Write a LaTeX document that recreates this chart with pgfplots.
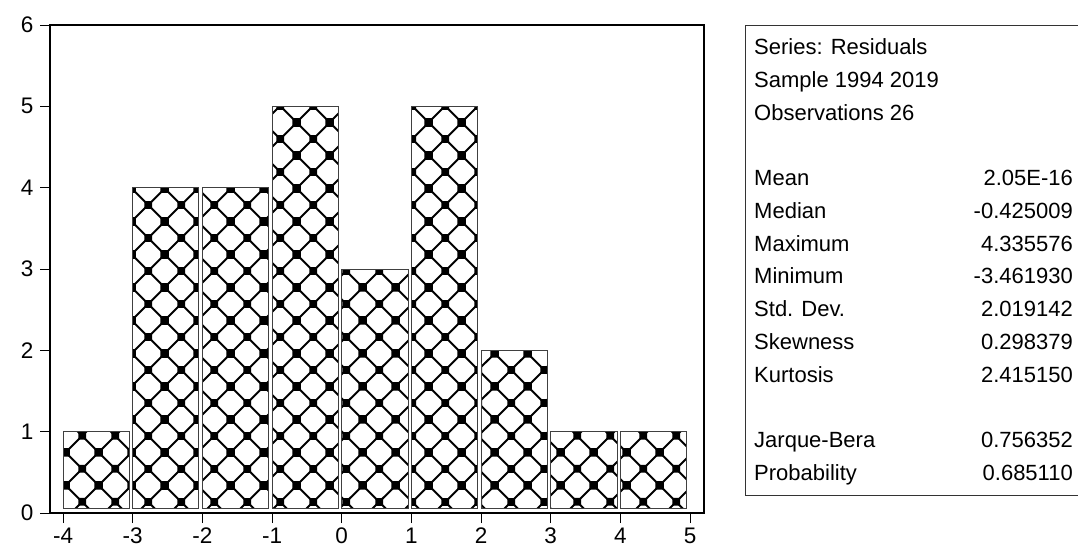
\documentclass[border=0pt]{standalone}
\usepackage{pgfplots}
\pgfplotsset{compat=1.18}
\usepackage{fontspec}
\setmainfont{Liberation Sans}
\usetikzlibrary{patterns}

\pgfdeclarepatternformonly{evx}{\pgfpointorigin}{\pgfpoint{33pt}{33pt}}{\pgfpoint{33pt}{33pt}}{%
  \pgfsetlinewidth{2.0pt}%
  \pgfpathmoveto{\pgfpointorigin}\pgfpathlineto{\pgfpoint{33pt}{33pt}}%
  \pgfpathmoveto{\pgfpoint{0pt}{33pt}}\pgfpathlineto{\pgfpoint{33pt}{0pt}}%
  \pgfusepath{stroke}%
  \pgfpathrectangle{\pgfpoint{12.5pt}{12.5pt}}{\pgfpoint{8pt}{8pt}}%
  \pgfpathrectangle{\pgfpoint{-4pt}{-4pt}}{\pgfpoint{8pt}{8pt}}%
  \pgfpathrectangle{\pgfpoint{29pt}{-4pt}}{\pgfpoint{8pt}{8pt}}%
  \pgfpathrectangle{\pgfpoint{-4pt}{29pt}}{\pgfpoint{8pt}{8pt}}%
  \pgfpathrectangle{\pgfpoint{29pt}{29pt}}{\pgfpoint{8pt}{8pt}}%
  \pgfusepath{fill}%
}

\begin{document}
\begin{tikzpicture}[x=1pt,y=1pt]
\path[use as bounding box] (0,0) rectangle (1078,550);
\begin{axis}[
  at={(50pt,37pt)}, anchor=south west,
  scale only axis, width=654pt, height=488pt,
  xmin=-4.187, xmax=5.2, ymin=0, ymax=6,
  xtick={-4,-3,...,5}, ytick={0,1,...,6},
  xticklabels={-4,-3,-2,-1,0,1,2,3,4,5},
  yticklabels={0,1,2,3,4,5,6},
  tick align=outside, major tick length=10pt,
  xtick pos=bottom, ytick pos=left,
  tick style={black, line width=0.8pt},
  axis line style={black, line width=1.6pt},
  xticklabel style={font=\fontsize{22.5}{26}\selectfont, text height=16pt, yshift=-1pt},
  yticklabel style={font=\fontsize{22.5}{26}\selectfont, xshift=-3pt},
]
\addplot[draw=black!75, line width=0.8pt, pattern=evx] coordinates {(-4,0.06) (-3.05,0.06) (-3.05,1) (-4,1)} -- cycle;
\addplot[draw=black!75, line width=0.8pt, pattern=evx] coordinates {(-3,0.06) (-2.05,0.06) (-2.05,4) (-3,4)} -- cycle;
\addplot[draw=black!75, line width=0.8pt, pattern=evx] coordinates {(-2,0.06) (-1.05,0.06) (-1.05,4) (-2,4)} -- cycle;
\addplot[draw=black!75, line width=0.8pt, pattern=evx] coordinates {(-1,0.06) (-0.05,0.06) (-0.05,5) (-1,5)} -- cycle;
\addplot[draw=black!75, line width=0.8pt, pattern=evx] coordinates {(0,0.06) (0.95,0.06) (0.95,3) (0,3)} -- cycle;
\addplot[draw=black!75, line width=0.8pt, pattern=evx] coordinates {(1,0.06) (1.95,0.06) (1.95,5) (1,5)} -- cycle;
\addplot[draw=black!75, line width=0.8pt, pattern=evx] coordinates {(2,0.06) (2.95,0.06) (2.95,2) (2,2)} -- cycle;
\addplot[draw=black!75, line width=0.8pt, pattern=evx] coordinates {(3,0.06) (3.95,0.06) (3.95,1) (3,1)} -- cycle;
\addplot[draw=black!75, line width=0.8pt, pattern=evx] coordinates {(4,0.06) (4.95,0.06) (4.95,1) (4,1)} -- cycle;
\end{axis}
% statistics box
\draw[black!80, line width=0.8pt] (1079,525) -- (745,525) -- (745,55) -- (1079,55);
\begin{scope}[every node/.style={inner sep=0pt, font=\fontsize{22}{26}\selectfont}]
\node[anchor=base west] at (754,495) {Series: Residuals};
\node[anchor=base west] at (754,462.3) {Sample 1994 2019};
\node[anchor=base west] at (754,429.6) {Observations 26};
\node[anchor=base west] at (754,364.2) {Mean};
\node[anchor=base west] at (754,331.5) {Median};
\node[anchor=base west] at (754,298.8) {Maximum};
\node[anchor=base west] at (754,266.1) {Minimum};
\node[anchor=base west] at (754,233.4) {Std. Dev.};
\node[anchor=base west] at (754,200.7) {Skewness};
\node[anchor=base west] at (754,168) {Kurtosis};
\node[anchor=base west] at (754,102.6) {Jarque-Bera};
\node[anchor=base west] at (754,69.9) {Probability};
\node[anchor=base east] at (1073,364.2) {2.05E-16};
\node[anchor=base east] at (1073,331.5) {-0.425009};
\node[anchor=base east] at (1073,298.8) {4.335576};
\node[anchor=base east] at (1073,266.1) {-3.461930};
\node[anchor=base east] at (1073,233.4) {2.019142};
\node[anchor=base east] at (1073,200.7) {0.298379};
\node[anchor=base east] at (1073,168) {2.415150};
\node[anchor=base east] at (1073,102.6) {0.756352};
\node[anchor=base east] at (1073,69.9) {0.685110};
\end{scope}
\end{tikzpicture}
\end{document}
